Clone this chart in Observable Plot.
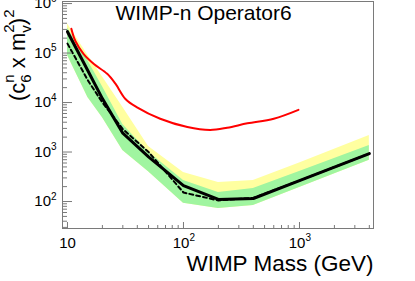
<!DOCTYPE html>
<html><head><meta charset="utf-8">
<script src="https://cdn.jsdelivr.net/npm/d3@7"></script>
<script src="https://cdn.jsdelivr.net/npm/@observablehq/plot@0.6"></script>
<style>body{margin:0;background:#fff;overflow:hidden}</style>
</head><body><div id="chart"></div>
<script>
// WIMP mass points (GeV) for expected limit, dashed line and bands
const masses      = [10,     15,     20,     30,     50,   100, 200, 400, 1000, 4000];
const expected    = [2.7e5,  4.4e4,  1.2e4,  2.4e3,  800,  210, 110, 115, 265,  930];
const dashedLimit = [1.55e5, 2.8e4,  1.0e4,  2.9e3,  1000, 152, 105, 118, 265,  930];
const band1Low    = [9e4,    1.26e4, 5e3,    1.07e3, 400,  92,  72,  83,  192,  680];
const band1High   = [3.2e5,  7e4,    2.1e4,  3.6e3,  1000, 265, 152, 183, 405,  1350];
const band2High   = [3.9e5,  9e4,    3.3e4,  8e3,    1300, 385, 242, 265, 600,  2150];
// red curve
const redMasses = [10.8, 11.7, 13.8, 16.9, 22, 25.9, 31.6, 39.8, 63, 108, 170, 238, 356, 600, 980];
const redValues = [3.1e5, 1.75e5, 9.5e4, 6.0e4, 3.8e4, 2.4e4, 1.18e4, 8.0e3, 4.7e3, 3.2e3, 2.8e3, 3.1e3, 3.8e3, 4.7e3, 7.1e3];
// ticks
const xMajor = [10, 100, 1000];
const xMajorExp = ["", "2", "3"];
const xMinor = [20,30,40,50,60,70,80,90,200,300,400,500,600,700,800,900,2000,3000,4000];
const yMajor = [1e2, 1e3, 1e4, 1e5, 1e6];
const yMajorExp = ["2", "3", "4", "5", "6"];
const yMinor = [30,40,50,60,70,80,90,
  200,300,400,500,600,700,800,900,
  2000,3000,4000,5000,6000,7000,8000,9000,
  2e4,3e4,4e4,5e4,6e4,7e4,8e4,9e4,
  2e5,3e5,4e5,5e5,6e5,7e5,8e5,9e5];
const titleText = "WIMP-n Operator6";
const xLabel = "WIMP Mass (GeV)";

const rows = masses.map((m, i) => ({m, exp: expected[i], obs: dashedLimit[i], lo: band1Low[i], hi1: band1High[i], hi2: band2High[i]}));
const redRows = redMasses.map((m, i) => ({m, v: redValues[i]}));
const xTickRows = xMajor.map((v, i) => ({v, e: xMajorExp[i]}));
const yTickRows = yMajor.map((v, i) => ({v, e: yMajorExp[i]}));

const W = 415, H = 281, ML = 62, MR = 42, MT = 1, MB = 53;
const FW = W - ML - MR, FH = H - MT - MB;
const font = "'Liberation Sans', Arial, sans-serif";
const axisGray = "#7a7a7a";

const plot = Plot.plot({
  width: W, height: H,
  marginLeft: ML, marginRight: MR, marginTop: MT, marginBottom: MB,
  x: {type: "log", domain: [9.06, 4345], axis: null},
  y: {type: "log", domain: [28.5, 1.1e6], axis: null},
  style: {fontFamily: font, background: "white", color: "black"},
  marks: [
    Plot.areaY(rows, {x: "m", y1: "lo", y2: "hi2", fill: "#ffffa0"}),
    Plot.areaY(rows, {x: "m", y1: "lo", y2: "hi1", fill: "#a0f5a0"}),
    Plot.line(rows, {x: "m", y: "obs", stroke: "black", strokeWidth: 2, strokeDasharray: "4,3"}),
    Plot.line(rows, {x: "m", y: "exp", stroke: "black", strokeWidth: 3}),
    Plot.line(redRows, {x: "m", y: "v", stroke: "#ff0000", strokeWidth: 2, curve: "catmull-rom"}),
    Plot.ruleY(yMajor, {y: d => d, insetRight: FW - 10, stroke: axisGray}),
    Plot.ruleY(yMinor, {y: d => d, insetRight: FW - 5, stroke: axisGray}),
    Plot.ruleX(xMajor, {x: d => d, insetTop: FH - 6, stroke: axisGray}),
    Plot.ruleX(xMinor, {x: d => d, insetTop: FH - 3, stroke: axisGray}),
    Plot.frame({stroke: axisGray}),
    // x tick labels: "10" plus exponent
    Plot.text(xTickRows.filter(d => !d.e), {x: "v", text: () => "10", frameAnchor: "bottom", dy: 14.5, fontSize: 15, lineAnchor: "middle", textAnchor: "middle"}),
    Plot.text(xTickRows.filter(d => d.e), {x: "v", text: () => "10", frameAnchor: "bottom", dy: 14.5, dx: -2.5, fontSize: 15, lineAnchor: "middle", textAnchor: "middle"}),
    Plot.text(xTickRows.filter(d => d.e), {x: "v", text: "e", frameAnchor: "bottom", dy: 9, dx: 6, fontSize: 10, lineAnchor: "middle", textAnchor: "start"}),
    // y tick labels
    Plot.text(yTickRows, {y: "v", text: () => "10", frameAnchor: "left", dx: -11.5, fontSize: 15, lineAnchor: "middle", textAnchor: "end"}),
    Plot.text(yTickRows, {y: "v", text: "e", frameAnchor: "left", dx: -11.5, dy: -5, fontSize: 10, lineAnchor: "middle", textAnchor: "start"}),
    // title and x label
    Plot.text([titleText], {text: d => d, frameAnchor: "top-left", dx: 53, dy: 4, fontSize: 21, lineAnchor: "top", textAnchor: "start"}),
    Plot.text([xLabel], {text: d => d, frameAnchor: "bottom-right", dy: 35.5, fontSize: 22.5, lineAnchor: "middle", textAnchor: "end"})
  ]
});
document.getElementById("chart").appendChild(plot);

// y-axis title with sub/superscripts
const svg = d3.select(plot);
const t = svg.append("text")
  .attr("transform", "translate(25,101) rotate(-90)")
  .attr("text-anchor", "start")
  .attr("font-size", 22).attr("fill", "black").attr("font-family", font);
t.append("tspan").text("(c");
t.append("tspan").attr("font-size", 15).attr("dy", -11).text("n");
t.append("tspan").attr("font-size", 15).attr("dx", -8.3).attr("dy", 17).text("6");
t.append("tspan").attr("dy", -6).text(" x m");
t.append("tspan").attr("font-size", 15).attr("dy", -11).text("2");
t.append("tspan").attr("font-size", 15).attr("dx", -8.3).attr("dy", 17).text("v");
t.append("tspan").attr("dy", -6).text(")");
t.append("tspan").attr("font-size", 15).attr("dy", -11).text("2");
</script>
</body></html>
